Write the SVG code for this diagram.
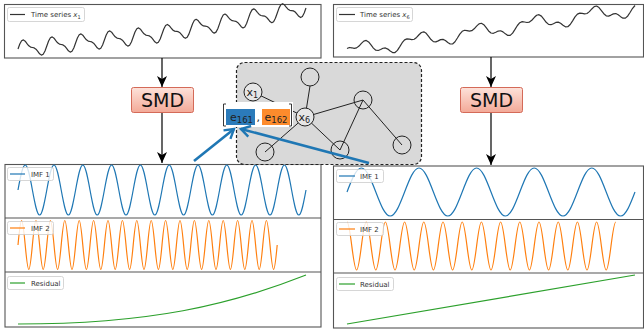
<svg xmlns="http://www.w3.org/2000/svg" width="644" height="335" viewBox="0 0 644 335">
<style>
.frame{fill:#fff;stroke:#555;stroke-width:1.1}
.div{stroke:#555;stroke-width:1.1}
.ts{fill:none;stroke:#333;stroke-width:1.2;stroke-linejoin:round}
.imf1{fill:none;stroke:#1f77b4;stroke-width:1.2}
.imf2{fill:none;stroke:#ff7f0e;stroke-width:1.2}
.res{fill:none;stroke:#2ca02c;stroke-width:1.2}
.leg{fill:#fff;fill-opacity:0.8;stroke:#ccc;stroke-width:0.8}
.lt{font-family:"DejaVu Sans",sans-serif;font-size:7px;fill:#333}
.node{fill:none;stroke:#222;stroke-width:1}
.nodel{fill:#e6e6e6;stroke:#222;stroke-width:1}
.edge{stroke:#222;stroke-width:1}
.nl{font-family:"DejaVu Sans",sans-serif;font-size:11px;fill:#222}
.smd{fill:url(#sg);stroke:#d46a58;stroke-width:1}
.smdt{font-family:"DejaVu Sans",sans-serif;font-size:19px;fill:#111}
.barr{stroke:#000;stroke-width:1.2;fill:none}
.blarr{stroke:#1f77b4;stroke-width:2.6;fill:none}
</style>
<defs>
<linearGradient id="sg" x1="0" y1="0" x2="0" y2="1"><stop offset="0" stop-color="#fde2da"/><stop offset="1" stop-color="#f3a997"/></linearGradient>
<marker id="ah" markerWidth="12" markerHeight="10" refX="11" refY="5" orient="auto" markerUnits="userSpaceOnUse"><path d="M0,0 L11,5 L0,10 L3,5 z" fill="#000"/></marker>
<marker id="bh" markerWidth="14" markerHeight="14" refX="11" refY="7" orient="auto" markerUnits="userSpaceOnUse"><path d="M2,1.5 L11,7 L2,12.5" fill="none" stroke="#1f77b4" stroke-width="2.4"/></marker>
</defs>

<g id="panel-x1">
<rect class="frame" x="4.5" y="4.5" width="316.5" height="53.5"/>
<path class="ts" vector-effect="non-scaling-stroke" transform="matrix(1,-0.1042,0,1,0,50.88)" d="M18,0 l1.8,-4.75 1.8,-3.14 1.8,-0.67 1.8,1.53 1.8,2.61 1.8,2.38 1.8,1.43 1.8,0.61 1.8,0.61 1.8,1.43 1.8,2.38 1.8,2.61 1.8,1.53 1.8,-0.67 1.8,-3.14 1.8,-4.75 l1.8,-4.75 1.8,-3.14 1.8,-0.67 1.8,1.53 1.8,2.61 1.8,2.38 1.8,1.43 1.8,0.61 1.8,0.61 1.8,1.43 1.8,2.38 1.8,2.61 1.8,1.53 1.8,-0.67 1.8,-3.14 1.8,-4.75 l1.8,-4.75 1.8,-3.14 1.8,-0.67 1.8,1.53 1.8,2.61 1.8,2.38 1.8,1.43 1.8,0.61 1.8,0.61 1.8,1.43 1.8,2.38 1.8,2.61 1.8,1.53 1.8,-0.67 1.8,-3.14 1.8,-4.75 l1.8,-4.75 1.8,-3.14 1.8,-0.67 1.8,1.53 1.8,2.61 1.8,2.38 1.8,1.43 1.8,0.61 1.8,0.61 1.8,1.43 1.8,2.38 1.8,2.61 1.8,1.53 1.8,-0.67 1.8,-3.14 1.8,-4.75 l1.8,-4.75 1.8,-3.14 1.8,-0.67 1.8,1.53 1.8,2.61 1.8,2.38 1.8,1.43 1.8,0.61 1.8,0.61 1.8,1.43 1.8,2.38 1.8,2.61 1.8,1.53 1.8,-0.67 1.8,-3.14 1.8,-4.75"/>
<path class="ts" vector-effect="non-scaling-stroke" transform="matrix(1,-0.1806,0,1,0,63.26)" d="M162,0 l1.8,-4.75 1.8,-3.14 1.8,-0.67 1.8,1.53 1.8,2.61 1.8,2.38 1.8,1.43 1.8,0.61 1.8,0.61 1.8,1.43 1.8,2.38 1.8,2.61 1.8,1.53 1.8,-0.67 1.8,-3.14 1.8,-4.75 l1.8,-4.75 1.8,-3.14 1.8,-0.67 1.8,1.53 1.8,2.61 1.8,2.38 1.8,1.43 1.8,0.61 1.8,0.61 1.8,1.43 1.8,2.38 1.8,2.61 1.8,1.53 1.8,-0.67 1.8,-3.14 1.8,-4.75 l1.8,-4.75 1.8,-3.14 1.8,-0.67 1.8,1.53 1.8,2.61 1.8,2.38 1.8,1.43 1.8,0.61 1.8,0.61 1.8,1.43 1.8,2.38 1.8,2.61 1.8,1.53 1.8,-0.67 1.8,-3.14 1.8,-4.75 l1.8,-4.75 1.8,-3.14 1.8,-0.67 1.8,1.53 1.8,2.61 1.8,2.38 1.8,1.43 1.8,0.61 1.8,0.61 1.8,1.43 1.8,2.38 1.8,2.61 1.8,1.53 1.8,-0.67 1.8,-3.14 1.8,-4.75 l1.8,-4.75 1.8,-3.14 1.8,-0.67 1.8,1.53 1.8,2.61 1.8,2.38 1.8,1.43 1.8,0.61 1.8,0.61 1.8,1.43 1.8,2.38 1.8,2.61 1.8,1.53 1.8,-0.67 1.8,-3.14 1.8,-4.75"/>
<rect class="leg" x="7.5" y="7.5" width="77" height="14" rx="2"/>
<line x1="10" y1="14.5" x2="25" y2="14.5" stroke="#333" stroke-width="1.2"/>
<text class="lt" x="31" y="17">Time series <tspan font-style="italic">x</tspan><tspan font-size="5" dy="1.5">1</tspan></text>
</g>

<g id="panel-x6">
<rect class="frame" x="333.5" y="4.5" width="310" height="52.5"/>
<path class="ts" vector-effect="non-scaling-stroke" transform="matrix(1,-0.1493,0,1,0,103.31)" d="M347,-3 l2.4,-0.67 2.4,0.67 2.4,0.88 2.4,-0.07 2.4,-1.48 2.4,-2.33 2.4,-1.92 2.4,-0.28 2.4,1.84 2.4,3.36 2.4,3.56 2.4,2.44 2.4,0.67 2.4,-0.67 2.4,-0.88 2.4,0.07 2.4,1.48 2.4,2.33 2.4,1.92 2.4,0.28 2.4,-1.84 2.4,-3.36 2.4,-3.56 2.4,-2.44 l2.4,-0.67 2.4,0.67 2.4,0.88 2.4,-0.07 2.4,-1.48 2.4,-2.33 2.4,-1.92 2.4,-0.28 2.4,1.84 2.4,3.36 2.4,3.56 2.4,2.44 2.4,0.67 2.4,-0.67 2.4,-0.88 2.4,0.07 2.4,1.48 2.4,2.33 2.4,1.92 2.4,0.28 2.4,-1.84 2.4,-3.36 2.4,-3.56 2.4,-2.44 l2.4,-0.67 2.4,0.67 2.4,0.88 2.4,-0.07 2.4,-1.48 2.4,-2.33 2.4,-1.92 2.4,-0.28 2.4,1.84 2.4,3.36 2.4,3.56 2.4,2.44 2.4,0.67 2.4,-0.67 2.4,-0.88 2.4,0.07 2.4,1.48 2.4,2.33 2.4,1.92 2.4,0.28 2.4,-1.84 2.4,-3.36 2.4,-3.56 2.4,-2.44 l2.4,-0.67 2.4,0.67 2.4,0.88 2.4,-0.07 2.4,-1.48 2.4,-2.33 2.4,-1.92 2.4,-0.28 2.4,1.84 2.4,3.36 2.4,3.56 2.4,2.44 2.4,0.67 2.4,-0.67 2.4,-0.88 2.4,0.07 2.4,1.48 2.4,2.33 2.4,1.92 2.4,0.28 2.4,-1.84 2.4,-3.36 2.4,-3.56 2.4,-2.44 l2.4,-0.67 2.4,0.67 2.4,0.88 2.4,-0.07 2.4,-1.48 2.4,-2.33 2.4,-1.92 2.4,-0.28 2.4,1.84 2.4,3.36 2.4,3.56 2.4,2.44 2.4,0.67 2.4,-0.67 2.4,-0.88 2.4,0.07 2.4,1.48 2.4,2.33 2.4,1.92 2.4,0.28 2.4,-1.84 2.4,-3.36 2.4,-3.56 2.4,-2.44"/>
<rect class="leg" x="336.5" y="7.5" width="76" height="14" rx="2"/>
<line x1="339" y1="14.5" x2="355" y2="14.5" stroke="#333" stroke-width="1.2"/>
<text class="lt" x="360" y="17">Time series <tspan font-style="italic">x</tspan><tspan font-size="5" dy="1.5">6</tspan></text>
</g>

<g id="panel-left-imfs">
<rect class="frame" x="5" y="164.5" width="316" height="162.5"/>
<line class="div" x1="5" y1="218" x2="321" y2="218"/>
<line class="div" x1="5" y1="272" x2="321" y2="272"/>
<path class="imf1" d="M18,190 c2.35,-12.81 4.59,-25 7.2,-25 c2.61,0 4.85,12.19 7.2,25 c2.35,12.81 4.59,25 7.2,25 c2.61,0 4.85,-12.19 7.2,-25 c2.35,-12.81 4.59,-25 7.2,-25 c2.61,0 4.85,12.19 7.2,25 c2.35,12.81 4.59,25 7.2,25 c2.61,0 4.85,-12.19 7.2,-25 c2.35,-12.81 4.59,-25 7.2,-25 c2.61,0 4.85,12.19 7.2,25 c2.35,12.81 4.59,25 7.2,25 c2.61,0 4.85,-12.19 7.2,-25 c2.35,-12.81 4.59,-25 7.2,-25 c2.61,0 4.85,12.19 7.2,25 c2.35,12.81 4.59,25 7.2,25 c2.61,0 4.85,-12.19 7.2,-25 c2.35,-12.81 4.59,-25 7.2,-25 c2.61,0 4.85,12.19 7.2,25 c2.35,12.81 4.59,25 7.2,25 c2.61,0 4.85,-12.19 7.2,-25 c2.35,-12.81 4.59,-25 7.2,-25 c2.61,0 4.85,12.19 7.2,25 c2.35,12.81 4.59,25 7.2,25 c2.61,0 4.85,-12.19 7.2,-25 c2.35,-12.81 4.59,-25 7.2,-25 c2.61,0 4.85,12.19 7.2,25 c2.35,12.81 4.59,25 7.2,25 c2.61,0 4.85,-12.19 7.2,-25 c2.35,-12.81 4.59,-25 7.2,-25 c2.61,0 4.85,12.19 7.2,25 c2.35,12.81 4.59,25 7.2,25 c2.61,0 4.85,-12.19 7.2,-25 c2.35,-12.81 4.59,-25 7.2,-25 c2.61,0 4.85,12.19 7.2,25 c2.35,12.81 4.59,25 7.2,25 c2.61,0 4.85,-12.19 7.2,-25 c2.35,-12.81 4.59,-25 7.2,-25 c2.61,0 4.85,12.19 7.2,25 c2.35,12.81 4.59,25 7.2,25 c2.61,0 4.85,-12.19 7.2,-25"/>
<path class="imf2" d="M18,245 c1.17,-12.55 2.3,-24.5 3.6,-24.5 c1.3,0 2.43,11.95 3.6,24.5 c1.17,12.55 2.3,24.5 3.6,24.5 c1.3,0 2.43,-11.95 3.6,-24.5 c1.17,-12.55 2.3,-24.5 3.6,-24.5 c1.3,0 2.43,11.95 3.6,24.5 c1.17,12.55 2.3,24.5 3.6,24.5 c1.3,0 2.43,-11.95 3.6,-24.5 c1.17,-12.55 2.3,-24.5 3.6,-24.5 c1.3,0 2.43,11.95 3.6,24.5 c1.17,12.55 2.3,24.5 3.6,24.5 c1.3,0 2.43,-11.95 3.6,-24.5 c1.17,-12.55 2.3,-24.5 3.6,-24.5 c1.3,0 2.43,11.95 3.6,24.5 c1.17,12.55 2.3,24.5 3.6,24.5 c1.3,0 2.43,-11.95 3.6,-24.5 c1.17,-12.55 2.3,-24.5 3.6,-24.5 c1.3,0 2.43,11.95 3.6,24.5 c1.17,12.55 2.3,24.5 3.6,24.5 c1.3,0 2.43,-11.95 3.6,-24.5 c1.17,-12.55 2.3,-24.5 3.6,-24.5 c1.3,0 2.43,11.95 3.6,24.5 c1.17,12.55 2.3,24.5 3.6,24.5 c1.3,0 2.43,-11.95 3.6,-24.5 c1.17,-12.55 2.3,-24.5 3.6,-24.5 c1.3,0 2.43,11.95 3.6,24.5 c1.17,12.55 2.3,24.5 3.6,24.5 c1.3,0 2.43,-11.95 3.6,-24.5 c1.17,-12.55 2.3,-24.5 3.6,-24.5 c1.3,0 2.43,11.95 3.6,24.5 c1.17,12.55 2.3,24.5 3.6,24.5 c1.3,0 2.43,-11.95 3.6,-24.5 c1.17,-12.55 2.3,-24.5 3.6,-24.5 c1.3,0 2.43,11.95 3.6,24.5 c1.17,12.55 2.3,24.5 3.6,24.5 c1.3,0 2.43,-11.95 3.6,-24.5 c1.17,-12.55 2.3,-24.5 3.6,-24.5 c1.3,0 2.43,11.95 3.6,24.5 c1.17,12.55 2.3,24.5 3.6,24.5 c1.3,0 2.43,-11.95 3.6,-24.5 c1.17,-12.55 2.3,-24.5 3.6,-24.5 c1.3,0 2.43,11.95 3.6,24.5 c1.17,12.55 2.3,24.5 3.6,24.5 c1.3,0 2.43,-11.95 3.6,-24.5 c1.17,-12.55 2.3,-24.5 3.6,-24.5 c1.3,0 2.43,11.95 3.6,24.5 c1.17,12.55 2.3,24.5 3.6,24.5 c1.3,0 2.43,-11.95 3.6,-24.5 c1.17,-12.55 2.3,-24.5 3.6,-24.5 c1.3,0 2.43,11.95 3.6,24.5 c1.17,12.55 2.3,24.5 3.6,24.5 c1.3,0 2.43,-11.95 3.6,-24.5 c1.17,-12.55 2.3,-24.5 3.6,-24.5 c1.3,0 2.43,11.95 3.6,24.5 c1.17,12.55 2.3,24.5 3.6,24.5 c1.3,0 2.43,-11.95 3.6,-24.5 c1.17,-12.55 2.3,-24.5 3.6,-24.5 c1.3,0 2.43,11.95 3.6,24.5 c1.17,12.55 2.3,24.5 3.6,24.5 c1.3,0 2.43,-11.95 3.6,-24.5 c1.17,-12.55 2.3,-24.5 3.6,-24.5 c1.3,0 2.43,11.95 3.6,24.5 c1.17,12.55 2.3,24.5 3.6,24.5 c1.3,0 2.43,-11.95 3.6,-24.5 c1.17,-12.55 2.3,-24.5 3.6,-24.5 c1.3,0 2.43,11.95 3.6,24.5 c1.17,12.55 2.3,24.5 3.6,24.5 c1.3,0 2.43,-11.95 3.6,-24.5 c1.17,-12.55 2.3,-24.5 3.6,-24.5 c1.3,0 2.43,11.95 3.6,24.5 c1.17,12.55 2.3,24.5 3.6,24.5 c1.3,0 2.43,-11.95 3.6,-24.5"/>
<path class="res" d="M18,324 C150,324 230,305 306,275"/>
<rect class="leg" x="7.5" y="167.5" width="46" height="13" rx="2"/>
<line x1="10" y1="174" x2="25" y2="174" stroke="#1f77b4" stroke-width="1.2"/>
<text class="lt" x="31" y="176.5">IMF 1</text>
<rect class="leg" x="7.5" y="221.5" width="46" height="13" rx="2"/>
<line x1="10" y1="228" x2="25" y2="228" stroke="#ff7f0e" stroke-width="1.2"/>
<text class="lt" x="31" y="230.5">IMF 2</text>
<rect class="leg" x="7.5" y="276.5" width="56" height="13" rx="2"/>
<line x1="10" y1="283" x2="25" y2="283" stroke="#2ca02c" stroke-width="1.2"/>
<text class="lt" x="31" y="285.5">Residual</text>
</g>

<g id="panel-right-imfs">
<rect class="frame" x="333.5" y="166" width="310" height="162"/>
<line class="div" x1="333.5" y1="219.5" x2="643.5" y2="219.5"/>
<line class="div" x1="333.5" y1="273" x2="643.5" y2="273"/>
<path class="imf1" d="M347,192 c4.7,-12.3 9.19,-24 14.4,-24 c5.21,0 9.7,11.7 14.4,24 c4.7,12.3 9.19,24 14.4,24 c5.21,0 9.7,-11.7 14.4,-24 c4.7,-12.3 9.19,-24 14.4,-24 c5.21,0 9.7,11.7 14.4,24 c4.7,12.3 9.19,24 14.4,24 c5.21,0 9.7,-11.7 14.4,-24 c4.7,-12.3 9.19,-24 14.4,-24 c5.21,0 9.7,11.7 14.4,24 c4.7,12.3 9.19,24 14.4,24 c5.21,0 9.7,-11.7 14.4,-24 c4.7,-12.3 9.19,-24 14.4,-24 c5.21,0 9.7,11.7 14.4,24 c4.7,12.3 9.19,24 14.4,24 c5.21,0 9.7,-11.7 14.4,-24 c4.7,-12.3 9.19,-24 14.4,-24 c5.21,0 9.7,11.7 14.4,24 c4.7,12.3 9.19,24 14.4,24 c5.21,0 9.7,-11.7 14.4,-24"/>
<path class="imf2" d="M347,222 c1.74,0 3.24,11.7 4.8,24 c1.57,12.3 3.06,24 4.8,24 c1.74,0 3.24,-11.7 4.8,-24 c1.57,-12.3 3.06,-24 4.8,-24 c1.74,0 3.24,11.7 4.8,24 c1.57,12.3 3.06,24 4.8,24 c1.74,0 3.24,-11.7 4.8,-24 c1.57,-12.3 3.06,-24 4.8,-24 c1.74,0 3.24,11.7 4.8,24 c1.57,12.3 3.06,24 4.8,24 c1.74,0 3.24,-11.7 4.8,-24 c1.57,-12.3 3.06,-24 4.8,-24 c1.74,0 3.24,11.7 4.8,24 c1.57,12.3 3.06,24 4.8,24 c1.74,0 3.24,-11.7 4.8,-24 c1.57,-12.3 3.06,-24 4.8,-24 c1.74,0 3.24,11.7 4.8,24 c1.57,12.3 3.06,24 4.8,24 c1.74,0 3.24,-11.7 4.8,-24 c1.57,-12.3 3.06,-24 4.8,-24 c1.74,0 3.24,11.7 4.8,24 c1.57,12.3 3.06,24 4.8,24 c1.74,0 3.24,-11.7 4.8,-24 c1.57,-12.3 3.06,-24 4.8,-24 c1.74,0 3.24,11.7 4.8,24 c1.57,12.3 3.06,24 4.8,24 c1.74,0 3.24,-11.7 4.8,-24 c1.57,-12.3 3.06,-24 4.8,-24 c1.74,0 3.24,11.7 4.8,24 c1.57,12.3 3.06,24 4.8,24 c1.74,0 3.24,-11.7 4.8,-24 c1.57,-12.3 3.06,-24 4.8,-24 c1.74,0 3.24,11.7 4.8,24 c1.57,12.3 3.06,24 4.8,24 c1.74,0 3.24,-11.7 4.8,-24 c1.57,-12.3 3.06,-24 4.8,-24 c1.74,0 3.24,11.7 4.8,24 c1.57,12.3 3.06,24 4.8,24 c1.74,0 3.24,-11.7 4.8,-24 c1.57,-12.3 3.06,-24 4.8,-24 c1.74,0 3.24,11.7 4.8,24 c1.57,12.3 3.06,24 4.8,24 c1.74,0 3.24,-11.7 4.8,-24 c1.57,-12.3 3.06,-24 4.8,-24 c1.74,0 3.24,11.7 4.8,24 c1.57,12.3 3.06,24 4.8,24 c1.74,0 3.24,-11.7 4.8,-24 c1.57,-12.3 3.06,-24 4.8,-24 c1.74,0 3.24,11.7 4.8,24 c1.57,12.3 3.06,24 4.8,24 c1.74,0 3.24,-11.7 4.8,-24 c1.57,-12.3 3.06,-24 4.8,-24 c1.74,0 3.24,11.7 4.8,24 c1.57,12.3 3.06,24 4.8,24 c1.74,0 3.24,-11.7 4.8,-24 c1.57,-12.3 3.06,-24 4.8,-24"/>
<path class="res" d="M347,324 L635,275"/>
<rect class="leg" x="336.5" y="169.5" width="47" height="13" rx="2"/>
<line x1="339" y1="176" x2="355" y2="176" stroke="#1f77b4" stroke-width="1.2"/>
<text class="lt" x="360" y="178.5">IMF 1</text>
<rect class="leg" x="336.5" y="222.5" width="47" height="13" rx="2"/>
<line x1="339" y1="229" x2="355" y2="229" stroke="#ff7f0e" stroke-width="1.2"/>
<text class="lt" x="360" y="231.5">IMF 2</text>
<rect class="leg" x="336.5" y="277.5" width="57" height="13" rx="2"/>
<line x1="339" y1="284" x2="355" y2="284" stroke="#2ca02c" stroke-width="1.2"/>
<text class="lt" x="360" y="286.5">Residual</text>
</g>

<g id="graph-panel">
<rect x="236.5" y="62.5" width="185" height="102" rx="8" fill="#d9d9d9" stroke="#222" stroke-width="1.2" stroke-dasharray="3 2"/>
</g>

<g id="connectors">
<line class="edge" x1="310" y1="86" x2="306.5" y2="108"/>
<line class="edge" x1="253" y1="92" x2="305" y2="117"/>
<line class="edge" x1="305" y1="117" x2="363" y2="100"/>
<line class="edge" x1="305" y1="117" x2="265" y2="152"/>
<line class="edge" x1="305" y1="117" x2="340" y2="150"/>
<line class="edge" x1="363" y1="100" x2="340" y2="150"/>
<line class="edge" x1="363" y1="100" x2="402" y2="145"/>
<line class="barr" x1="162" y1="58" x2="162" y2="87" marker-end="url(#ah)"/>
<line class="barr" x1="162" y1="113" x2="162" y2="163" marker-end="url(#ah)"/>
<line class="barr" x1="491" y1="57" x2="491" y2="87" marker-end="url(#ah)"/>
<line class="barr" x1="491" y1="113" x2="491" y2="165" marker-end="url(#ah)"/>
</g>

<g id="node-top"><circle class="node" cx="310" cy="77" r="9"/></g>
<g id="node-x1"><circle class="nodel" cx="253" cy="92" r="9"/><text class="nl" x="246.5" y="96">x<tspan font-size="8" dy="1.5">1</tspan></text></g>
<g id="node-x6"><circle class="nodel" cx="305" cy="117" r="9"/><text class="nl" x="298.5" y="121">x<tspan font-size="8" dy="1.5">6</tspan></text></g>
<g id="node-right"><circle class="node" cx="363" cy="100" r="9"/></g>
<g id="node-bl"><circle class="node" cx="265" cy="152" r="9"/></g>
<g id="node-bm"><circle class="node" cx="340" cy="150" r="9"/></g>
<g id="node-br"><circle class="node" cx="402" cy="145" r="9"/></g>

<g id="edge-label">
<rect x="221" y="102" width="72" height="25" fill="#fff"/>
<path d="M226,104 L223.5,104 L223.5,126 L226,126 M289,104 L291.5,104 L291.5,126 L289,126" fill="none" stroke="#222" stroke-width="0.9"/>
<rect x="226" y="109" width="29" height="16" fill="#2b7bba"/>
<rect x="262" y="109" width="28" height="16" fill="#fd8b2c"/>
<text class="nl" x="230" y="120.5">e<tspan font-size="8.5" dy="2">161</tspan></text>
<text class="nl" x="256.5" y="121">,</text>
<text class="nl" x="264.5" y="120.5">e<tspan font-size="8.5" dy="2">162</tspan></text>
</g>

<g id="smd-left"><rect class="smd" x="131.5" y="87.5" width="62" height="25" rx="2"/><text class="smdt" x="162.5" y="107" text-anchor="middle">SMD</text></g>
<g id="smd-right"><rect class="smd" x="460.5" y="87.5" width="62" height="25" rx="2"/><text class="smdt" x="491.5" y="107" text-anchor="middle">SMD</text></g>

<g id="blue-arrows">
<line class="blarr" x1="194" y1="161" x2="234" y2="129" marker-end="url(#bh)"/>
<line class="blarr" x1="369" y1="163" x2="241" y2="129" marker-end="url(#bh)"/>
</g>
</svg>
